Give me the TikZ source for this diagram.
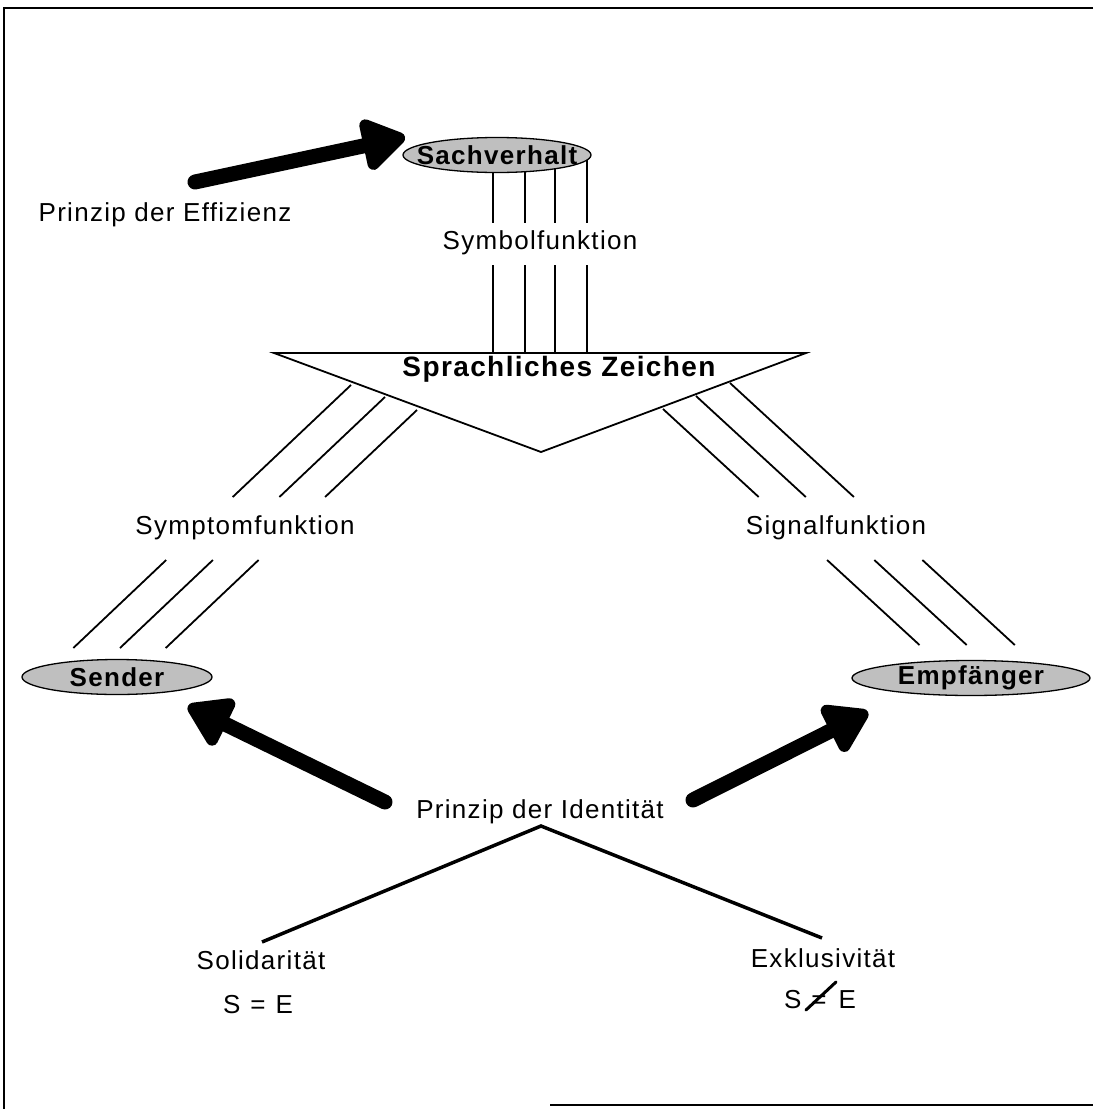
\documentclass[tikz,border=0pt]{standalone}
\usepackage{fontspec}
\setmainfont{Liberation Sans}[LetterSpace=5]
\usetikzlibrary{arrows.meta,shapes.geometric}
\begin{document}
\begin{tikzpicture}[x=1pt,y=-1pt,
  lbl/.style={font=\fontsize{26}{28}\selectfont, inner sep=0pt},
  oval/.style={ellipse, draw, line width=1.3pt, fill=gray!50, minimum width=#1, minimum height=35pt, inner sep=0pt, font=\fontsize{26}{28}\selectfont\bfseries},
  fn/.style={line width=1.8pt},
  bigarrow/.style={line width=15pt, line cap=round, -{Triangle[length=48pt,width=58pt,round]}},
  frame/.style={line width=2pt},
]
\useasboundingbox (0,0) rectangle (1093,1109);
% frame
\draw[frame] (1093,8) -- (4,8) -- (4,1109);
\draw[frame] (550,1105) -- (1093,1105);

% symbol lines
\foreach \x in {493,525,555,587} {
  \draw[fn] (\x,158) -- (\x,223);
  \draw[fn] (\x,265) -- (\x,353);
}
% symptom lines (left)
\draw[fn] (351,385) -- (232.7,497);  \draw[fn] (166.2,560) -- (73.3,648);
\draw[fn] (385,397) -- (279.4,497);  \draw[fn] (212.9,560) -- (120,648);
\draw[fn] (417,410) -- (325.1,497);  \draw[fn] (258.6,560) -- (165.7,648);
% signal lines (right)
\draw[fn] (663,409) -- (758.7,497);  \draw[fn] (827.1,560) -- (919.5,645);
\draw[fn] (696,396) -- (805.8,497);  \draw[fn] (874.3,560) -- (966.7,645);
\draw[fn] (730,383) -- (853.9,497);  \draw[fn] (922.4,560) -- (1014.8,645);

% triangle
\coordinate (tl) at (274,353);
\coordinate (tr) at (806,353);
\coordinate (tb) at (541,452);
\draw[fn, fill=white, line join=miter] (tl) -- (tr) -- (tb) -- cycle;
\node[lbl, font=\fontsize{28}{30}\selectfont\bfseries] (zeichen) at (559,369) {Sprachliches Zeichen};

% ovals
\node[oval=188pt] (sach) at (497,155) {\makebox[0pt]{Sachverhalt}};
\node[oval=190pt] (send) at (117,677) {\makebox[0pt]{Sender}};
\node[oval=238pt] (emp) at (971,678) {\makebox[0pt]{Empfänger}};

% labels
\node[lbl] (eff) at (165,215) {Prinzip der Effizienz};
\node[lbl] (sym) at (540,243) {Symbolfunktion};
\node[lbl] (spt) at (245,528) {Symptomfunktion};
\node[lbl] (sig) at (836,528) {Signalfunktion};
\node[lbl] (ident) at (540,812) {Prinzip der Identität};
\node[lbl] (sol) at (261,960) {Solidarität};
\node[lbl] (seq) at (258,1005) {S\hspace{10pt}=\hspace{10pt}E};
\node[lbl] (exk) at (823,958) {Exklusivität};
\node[lbl] (sne) at (820,1000) {S\hspace{10pt}=\hspace{12pt}E};
\draw[line width=3pt, line cap=round] (sne.center) ++(-14,10) -- ++(30,-28);

% arrows
\coordinate (e1) at (195,182); \coordinate (e2) at (405,137);
\draw[bigarrow] (e1) -- (e2);
\coordinate (l1) at (385,802); \coordinate (l2) at (188,706);
\draw[bigarrow] (l1) -- (l2);
\coordinate (r1) at (693,800); \coordinate (r2) at (868,712);
\draw[bigarrow] (r1) -- (r2);

% identity split
\coordinate (iv) at (541,826);
\coordinate (is) at (262,942);
\coordinate (ie) at (822,938);
\draw[line width=3.5pt] (is) -- (iv) -- (ie);
\end{tikzpicture}
\end{document}
